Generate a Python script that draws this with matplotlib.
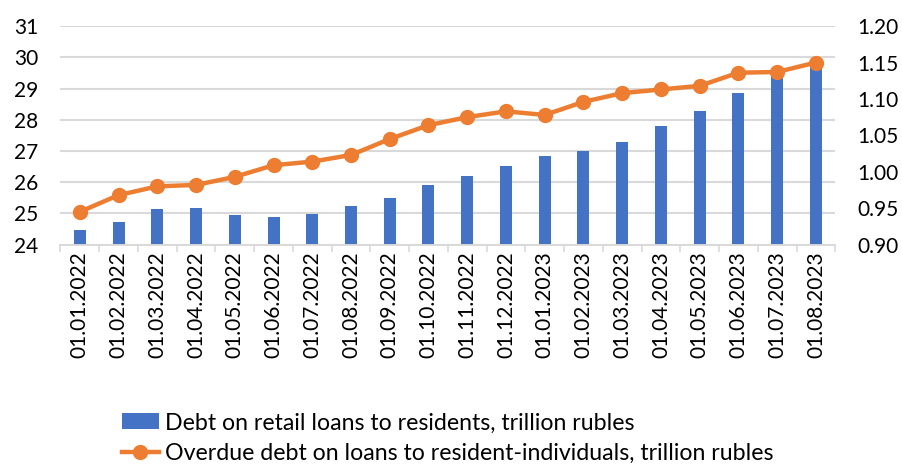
import numpy as np
import matplotlib as mpl
import matplotlib.pyplot as plt
from matplotlib.ticker import FixedLocator

# data
dates = ['01.01.2022', '01.02.2022', '01.03.2022', '01.04.2022', '01.05.2022',
         '01.06.2022', '01.07.2022', '01.08.2022', '01.09.2022', '01.10.2022',
         '01.11.2022', '01.12.2022', '01.01.2023', '01.02.2023', '01.03.2023',
         '01.04.2023', '01.05.2023', '01.06.2023', '01.07.2023', '01.08.2023']
debt = [24.46, 24.71, 25.14, 25.18, 24.95, 24.87, 24.98, 25.23, 25.51, 25.92,
        26.20, 26.52, 26.85, 27.01, 27.30, 27.80, 28.29, 28.86, 29.58, 29.85]
overdue = [0.945, 0.968, 0.980, 0.982, 0.993, 1.009, 1.014, 1.023, 1.045, 1.064,
           1.075, 1.083, 1.078, 1.096, 1.108, 1.113, 1.118, 1.136, 1.137, 1.150]
bar_label = 'Debt on retail loans to residents, trillion rubles'
line_label = 'Overdue debt on loans to resident-individuals, trillion rubles'

# configuration
mpl.rcParams['font.family'] = 'Lato'
mpl.rcParams['font.size'] = 15

fig = plt.figure(figsize=(9.02, 4.66), dpi=100)
ax = fig.add_axes([0.067, 0.475, 0.859, 0.469])
ax2 = ax.twinx()

x = np.arange(len(dates))
ax.bar(x, debt, width=0.31, color='#4472C4', label=bar_label, zorder=2)
ax2.plot(x, overdue, color='#ED7D31', lw=3.2, marker='o', markersize=10,
         label=line_label, zorder=3)

# axes
ax.set_xlim(-0.5, len(dates) - 0.5)
ax.set_ylim(24, 31)
ax2.set_ylim(0.90, 1.20)
ax.set_yticks(range(24, 32))
ax2.set_yticks(np.arange(0.90, 1.201, 0.05))
ax2.set_yticklabels(['%.2f' % v for v in np.arange(0.90, 1.201, 0.05)])
ax.set_xticks(x)
ax.set_xticklabels(dates, rotation=90)
ax.xaxis.set_minor_locator(FixedLocator(np.arange(-0.5, len(dates), 1)))
ax.tick_params(axis='x', which='major', length=0, pad=5)
ax.tick_params(axis='x', which='minor', length=5, color='#d9d9d9', width=1.2)
ax.tick_params(axis='y', length=0, pad=16)
ax2.tick_params(axis='y', length=0, pad=16)

ax.grid(axis='y', color='#d9d9d9', lw=1.5, zorder=0)
ax.set_axisbelow(True)
for a in (ax, ax2):
    for s in ['top', 'left', 'right']:
        a.spines[s].set_visible(False)
    a.spines['bottom'].set_color('#d9d9d9')
    a.spines['bottom'].set_linewidth(1.2)
ax2.set_zorder(ax.get_zorder() + 1)

# legend
h1, l1 = ax.get_legend_handles_labels()
h2, l2 = ax2.get_legend_handles_labels()
fig.legend(h1 + h2, l1 + l2, loc='center', bbox_to_anchor=(0.496, 0.06),
           frameon=False, handlelength=1.6, handletextpad=0.25,
           labelspacing=0.4, alignment='left', fontsize=16.7,
           borderpad=0.2)

plt.savefig('out.png', dpi=100)
